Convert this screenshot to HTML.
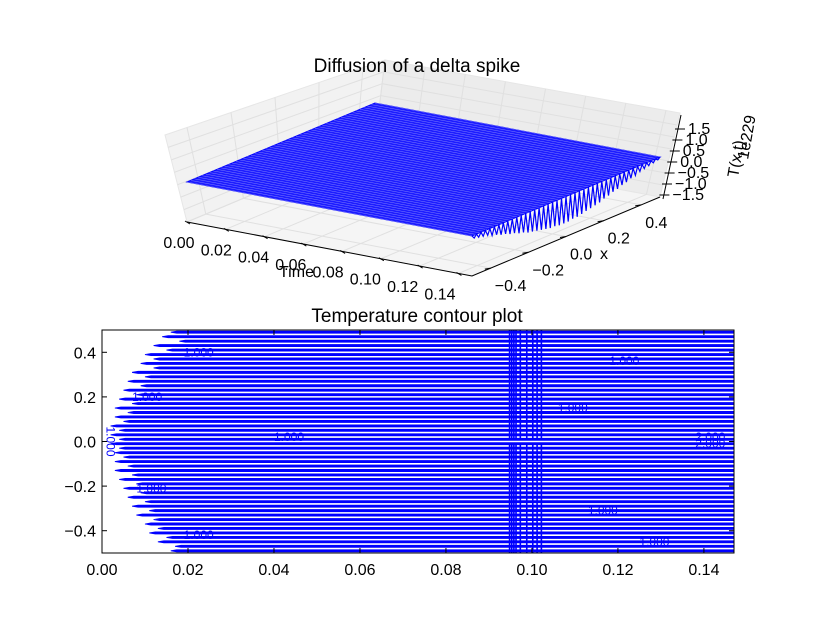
<!DOCTYPE html>
<html><head><meta charset="utf-8"><style>
body{margin:0;background:#fff}
svg text{font-family:"Liberation Sans",sans-serif}
</style></head><body>
<svg id="fig" width="815" height="615" viewBox="0 0 815 615" xmlns="http://www.w3.org/2000/svg">
<rect width="815" height="615" fill="#fff"/>
<g id="g3d"></g>
<g id="g2d"></g>
</svg>
<script>
// ---- data ----
const timeTicks=[0,0.02,0.04,0.06,0.08,0.10,0.12,0.14];
const timeTickLabels=["0.00","0.02","0.04","0.06","0.08","0.10","0.12","0.14"];
const xTicks=[-0.4,-0.2,0.0,0.2,0.4];
const xTickLabels=["\u22120.4","\u22120.2","0.0","0.2","0.4"];
const zTickLabels=["1.5","1.0","0.5","0.0","\u22120.5","\u22121.0","\u22121.5"];
const spikeDepth=[3,4,5,6,8,9,11,12,14,15,17,18,20,21,22,23,24,25,25,26,26,26,25,25,24,23,22,21,20,18,17,15,14,12,11,9,8,6,5,4,3,2];
const contourLevels=[0.49,0.47,0.45,0.43,0.41,0.39,0.37,0.35,0.33,0.31,0.29,0.27,0.25,0.23,0.21,0.19,0.17,0.15,0.13,0.11,0.09,0.07,0.05,0.03,0.01,-0.01,-0.03,-0.05,-0.07,-0.09,-0.11,-0.13,-0.15,-0.17,-0.19,-0.21,-0.23,-0.25,-0.27,-0.29,-0.31,-0.33,-0.35,-0.37,-0.39,-0.41,-0.43,-0.45,-0.47,-0.49];
const contourStart=[0.016,0.014,0.018,0.012,0.015,0.010,0.012,0.009,0.012,0.007,0.010,0.006,0.009,0.005,0.008,0.004,0.007,0.003,0.006,0.003,0.005,0.002,0.004,0.002,0.004,0.002,0.004,0.003,0.005,0.003,0.006,0.003,0.007,0.004,0.008,0.005,0.009,0.006,0.010,0.007,0.011,0.008,0.012,0.010,0.013,0.011,0.015,0.013,0.017,0.016];
const verticalLevels=[0.0948,0.0953,0.0958,0.0963,0.0973,0.0988,0.1002,0.1012,0.1022];
const labelTimes=[0.019,0.007,0.040,0.008,0.019,0.118,0.106,0.138,0.138,0.113,0.125];
const labelXs=[0.40,0.20,0.02,-0.21,-0.42,0.36,0.15,0.02,-0.01,-0.31,-0.45];
const labelTexts=["1.000","1.000","1.000","1.000","1.000","1.000","1.000","2.000","2.000","1.000","1.000"];

const NS="http://www.w3.org/2000/svg";
function mk(parent,tag,attrs){const e=document.createElementNS(NS,tag);for(const k in attrs)e.setAttribute(k,attrs[k]);parent.appendChild(e);return e;}
const lerp=(a,b,f)=>[a[0]+(b[0]-a[0])*f,a[1]+(b[1]-a[1])*f];

// ---- 3D ----
const g3=document.getElementById('g3d');
const O={x:187,y:182},TV={x:285,y:54},XV={x:188,y:-79},TMAX=0.147;
function P(t,x,z){const a=t/TMAX,b=x+0.5;return [O.x+a*TV.x+b*XV.x,O.y+a*TV.y+b*XV.y-z];}
function pts(a){return a.map(p=>p[0].toFixed(1)+','+p[1].toFixed(1)).join(' ');}
let e;
const LT=[165,135],BT=[385,60],RT=[680,113];
e=mk(g3,'polygon',{points:pts([P(0,-0.5,-40),P(0,0.5,-40),BT,LT]),fill:'#f2f2f2',stroke:'#e6e6e6'});

e=mk(g3,'polygon',{points:pts([P(0,0.5,-40),P(TMAX,0.5,-40),RT,BT]),fill:'#ececec',stroke:'#e6e6e6'});

e=mk(g3,'polygon',{points:pts([P(0,-0.5,-40),P(TMAX,-0.5,-40),P(TMAX,0.5,-40),P(0,0.5,-40)]),fill:'#f5f5f5',stroke:'#e6e6e6'});

for(const t of timeTicks){const a=P(t,-0.5,-40),b=P(t,0.5,-40),c=lerp(BT,RT,t/TMAX);
 e=mk(g3,'line',{x1:a[0],y1:a[1],x2:b[0],y2:b[1],stroke:'#e0e0e0'});
 e=mk(g3,'line',{x1:b[0],y1:b[1],x2:c[0],y2:c[1],stroke:'#e0e0e0'});}
for(const x of xTicks){const a=P(0,x,-40),b=P(TMAX,x,-40),c=lerp(LT,BT,x+0.5);
 e=mk(g3,'line',{x1:a[0],y1:a[1],x2:b[0],y2:b[1],stroke:'#e0e0e0'});
 e=mk(g3,'line',{x1:a[0],y1:a[1],x2:c[0],y2:c[1],stroke:'#e0e0e0'});}
for(let k=1;k<=6;k++){const f=k/7;
 const l0=lerp(P(0,-0.5,-40),LT,f),l1=lerp(P(0,0.5,-40),BT,f),r1=lerp(P(TMAX,0.5,-40),RT,f);
 e=mk(g3,'polyline',{points:pts([l0,l1,r1]),fill:'none',stroke:'#e0e0e0'});}
const surf=mk(g3,'g',{});
e=mk(surf,'polygon',{points:pts([P(0,-0.5,0),P(TMAX,-0.5,0),P(TMAX,0.5,0),P(0,0.5,0)]),fill:'#1c1cff',stroke:'#00f'});

for(let i=0;i<=50;i++){const x=-0.5+i/50;const a=P(0,x,0),b=P(TMAX,x,0);
 e=mk(surf,'line',{x1:a[0],y1:a[1],x2:b[0],y2:b[1],stroke:'#8080ff','stroke-width':0.5});}
const sp=[];const n=spikeDepth.length;
for(let i=0;i<n;i++){const x=-0.5+i/n;sp.push(P(TMAX,x,0));sp.push(P(TMAX,x+0.5/n,-spikeDepth[i]));}
sp.push(P(TMAX,0.5,0));
e=mk(g3,'polyline',{points:pts(sp),fill:'none',stroke:'#00f','stroke-width':1.2});

let a0=P(0,-0.5,-40),a1=P(TMAX,-0.5,-40),a2=P(TMAX,0.5,-40);
e=mk(g3,'polyline',{points:pts([a0,a1,a2]),fill:'none',stroke:'#000'});
timeTicks.forEach((t,i)=>{const p=P(t,-0.5,-40);
 e=mk(g3,'line',{x1:p[0]-2,y1:p[1]-1,x2:p[0]+3,y2:p[1]+2,stroke:'#000'});
 e=mk(g3,'text',{x:p[0]-8-i*1.5,y:p[1]+26,'font-size':16,'text-anchor':'middle'});e.textContent=timeTickLabels[i];});
xTicks.forEach((x,i)=>{const p=P(TMAX,x,-40);
 e=mk(g3,'line',{x1:p[0]-6,y1:p[1]+1,x2:p[0],y2:p[1],stroke:'#000'});
 e=mk(g3,'text',{x:p[0]+4,y:p[1]+23,'font-size':16});e.textContent=xTickLabels[i];});
e=mk(g3,'line',{x1:663,y1:199,x2:681,y2:115,stroke:'#000'});
zTickLabels.forEach((s,i)=>{const y=129+i*11,x=680-i*2.6;
 e=mk(g3,'line',{x1:x-5,y1:y,x2:x+5,y2:y,stroke:'#000'});
 e=mk(g3,'text',{x:x+8,y:y+5,'font-size':16});e.textContent=s;});
e=mk(g3,'text',{x:279,y:277,'font-size':16});e.textContent='Time';
e=mk(g3,'text',{x:600,y:259,'font-size':16});e.textContent='x';
e=mk(g3,'text',{x:0,y:0,'font-size':16,transform:'translate(738,178) rotate(-80)'});e.textContent='T(x,t)';
e=mk(g3,'text',{x:0,y:0,'font-size':16,transform:'translate(748,160) rotate(-80)'});e.textContent='1e229';
e=mk(g3,'text',{x:417,y:72,'font-size':19,'text-anchor':'middle'});e.textContent='Diffusion of a delta spike';

// ---- contour ----
const g2=document.getElementById('g2d');
const L=102,R=734,T=330,B=553,XMAX=0.147;
const sx=t=>L+t/XMAX*(R-L), sy=v=>T+(0.5-v)*(B-T);
const clip=mk(g2,'clipPath',{id:'cc'});mk(clip,'rect',{x:L,y:T,width:R-L,height:B-T});
const lines=mk(g2,'g',{'clip-path':'url(#cc)'});
contourLevels.forEach((v,i)=>{const y=sy(v),x0=sx(contourStart[i]);
 e=mk(lines,'path',{d:`M${R+5},${y-1} L${x0+6},${y-1} L${x0},${y} L${x0+6},${y+1} L${R+5},${y+1}`,fill:'#00f',stroke:'#00f','stroke-width':0.9});
 });
verticalLevels.forEach(t=>{const x=sx(t);
 e=mk(lines,'line',{x1:x,y1:T,x2:x,y2:sy(0.005),stroke:'#00f','stroke-width':1.6});
 e=mk(lines,'line',{x1:x,y1:sy(-0.01),x2:x,y2:B,stroke:'#00f','stroke-width':1.6});});
labelTexts.forEach((s,i)=>{
 e=mk(lines,'text',{x:sx(labelTimes[i]),y:sy(labelXs[i])+4,'font-size':12,fill:'#00f'});
 e.textContent=s;});
e=mk(g2,'text',{x:0,y:0,'font-size':12,fill:'#00f',transform:`translate(${sx(0.001)},${sy(0)}) rotate(90)`,'text-anchor':'middle'});e.textContent='1.000';
e=mk(g2,'rect',{x:L,y:T,width:R-L,height:B-T,fill:'none',stroke:'#000'});
const xt=[0,0.02,0.04,0.06,0.08,0.10,0.12,0.14],xtl=["0.00","0.02","0.04","0.06","0.08","0.10","0.12","0.14"];
xt.forEach((t,i)=>{const x=sx(t);
 e=mk(g2,'line',{x1:x,y1:B,x2:x,y2:B-5,stroke:'#000'});
 e=mk(g2,'line',{x1:x,y1:T,x2:x,y2:T+5,stroke:'#000'});
 e=mk(g2,'text',{x:x,y:B+22,'font-size':16,'text-anchor':'middle'});e.textContent=xtl[i];});
const yt=[0.4,0.2,0,-0.2,-0.4],ytl=["0.4","0.2","0.0","\u22120.2","\u22120.4"];
yt.forEach((v,i)=>{const y=sy(v);
 e=mk(g2,'line',{x1:L,y1:y,x2:L+5,y2:y,stroke:'#000'});
 e=mk(g2,'line',{x1:R,y1:y,x2:R-5,y2:y,stroke:'#000'});
 e=mk(g2,'text',{x:L-6,y:y+6,'font-size':16,'text-anchor':'end'});e.textContent=ytl[i];});
e=mk(g2,'text',{x:417,y:322,'font-size':19,'text-anchor':'middle'});e.textContent='Temperature contour plot';
</script>
</body></html>
